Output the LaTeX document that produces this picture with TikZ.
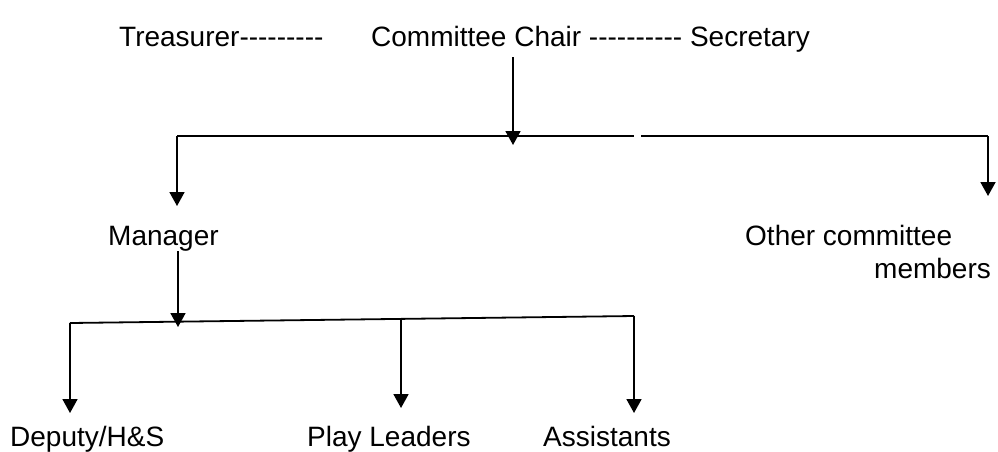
\documentclass[tikz,border=0pt]{standalone}
\usepackage{fontspec}
\setmainfont[Ligatures=TeXOff]{Liberation Sans}
\usepackage{tikz}
\usetikzlibrary{arrows.meta,positioning,calc}

\begin{document}
\begin{tikzpicture}[x=1pt,y=-1pt,
      t/.style={anchor=base west,inner sep=0pt,
                font=\fontsize{28pt}{33pt}\selectfont},
      ln/.style={line width=1.8pt},
      arr/.style={ln,-{Triangle[length=14pt,width=15pt]}}]
      \useasboundingbox (0,0) rectangle (998,451);
      \node[t] (treas) at (119,46) {Treasurer---------};
      \node[t] (chair) at (371,46) {Committee Chair ---------- Secretary};
      \node[t] (mgr) at (108,245) {Manager};
      \node[t] (oth) at (745,245) {Other committee};
      \node[t] (mem) at (874,278) {members};
      \node[t] (dep) at (10,446) {Deputy/H\&S};
      \node[t] (play) at (307,446) {Play Leaders};
      \node[t] (asst) at (543,446) {Assistants};
      \coordinate (c0) at (513,57);
      \coordinate (c1) at (513,145);
      \coordinate (hl) at (177,136);
      \coordinate (hg1) at (634,136);
      \coordinate (hg2) at (641,136);
      \coordinate (hr) at (988,136);
      \coordinate (m0) at (178,251);
      \coordinate (m1) at (178,327);
      \coordinate (bl) at (70,323);
      \coordinate (bm) at (401,319);
      \coordinate (br) at (634,316);
      \draw[arr] (c0) -- (c1);
      \draw[ln] (hl) -- (hg1);
      \draw[ln] (hg2) -- (hr);
      \draw[arr] (hl) -- (177,206);
      \draw[arr] (hr) -- (988,196);
      \draw[arr] (m0) -- (m1);
      \draw[ln] (bl) -- (br);
      \draw[arr] (bl) -- (70,413);
      \draw[arr] (bm) -- (401,408);
      \draw[arr] (br) -- (634,413);
    \end{tikzpicture}
\end{document}
